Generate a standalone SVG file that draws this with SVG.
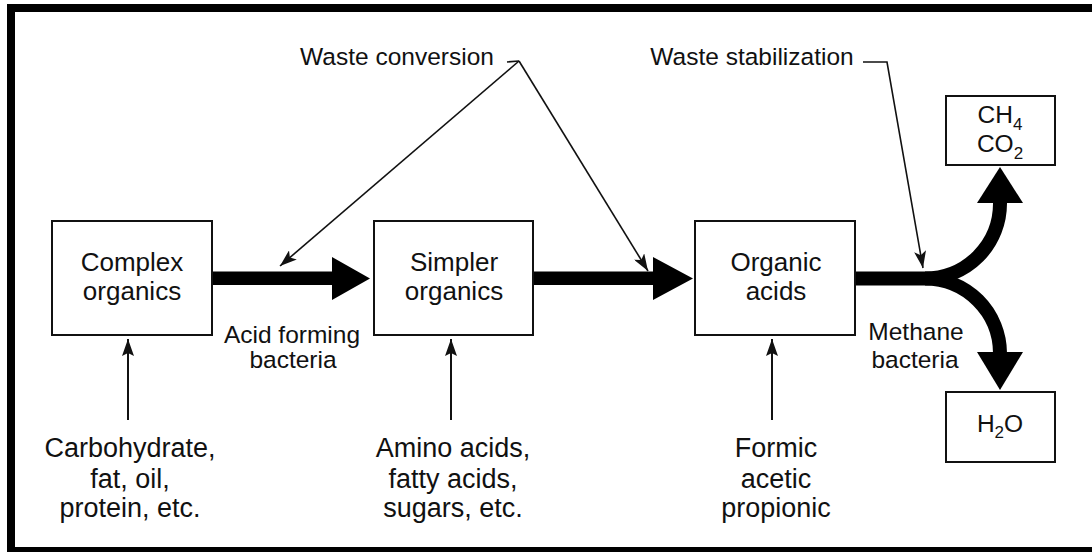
<svg xmlns="http://www.w3.org/2000/svg" width="1092" height="552" viewBox="0 0 1092 552">
<style>
.box{fill:#fff;stroke:#111;stroke-width:2}
.t{font-family:"Liberation Sans",Arial,sans-serif;fill:#111;text-anchor:middle}
.big{font-size:27px}
.bx{font-size:26px}
.lab{font-size:24.5px}
.thin{fill:none;stroke:#111;stroke-width:1.6}
.up{fill:none;stroke:#111;stroke-width:2}
.thick{fill:none;stroke:#000;stroke-width:14}
.head{fill:#000}
</style>
<defs>
<marker id="ah" markerUnits="userSpaceOnUse" markerWidth="18" markerHeight="12" refX="17" refY="6" orient="auto">
<path d="M0,0 L17,6 L0,12 L4,6 z" fill="#111"/>
</marker>
<marker id="ahu" markerUnits="userSpaceOnUse" markerWidth="18" markerHeight="12" refX="17" refY="6" orient="auto">
<path d="M0,0 L17,6 L0,12 L3,6 z" fill="#111"/>
</marker>
</defs>
<rect x="0" y="0" width="1092" height="552" fill="#fff"/>
<g id="frame">
<rect x="7" y="4" width="1085" height="8" fill="#000"/>
<rect x="7" y="4" width="8" height="548" fill="#000"/>
<rect x="7" y="547" width="1085" height="5" fill="#000"/>
</g>
<g id="connectors">
<polygon class="head" points="212,271.5 332,271.5 332,257 370,278.5 332,300 332,285 212,285"/>
<polygon class="head" points="533,271.5 653,271.5 653,257 693,278.5 653,300 653,285 533,285"/>
<path class="thick" d="M855,278.5 L925,278.5 A75,75 0 0 0 1000,203"/>
<path class="thick" d="M925,278.5 A75,75 0 0 1 1000,353"/>
<polygon class="head" points="977,203 1000,167 1023,203"/>
<polygon class="head" points="977,352 1023,352 1000,390"/>
<path class="thin" d="M507,62 L519,61"/>
<line class="thin" x1="519" y1="61" x2="280" y2="266" marker-end="url(#ah)"/>
<line class="thin" x1="519" y1="61" x2="648" y2="271" marker-end="url(#ah)"/>
<path class="thin" d="M863,62 L887,62 L923,268" marker-end="url(#ah)"/>
<line class="up" x1="128" y1="420" x2="128" y2="339" marker-end="url(#ahu)"/>
<line class="up" x1="451" y1="420" x2="451" y2="339" marker-end="url(#ahu)"/>
<line class="up" x1="772" y1="420" x2="772" y2="339" marker-end="url(#ahu)"/>
</g>
<g id="complex">
<rect class="box" x="52" y="221" width="160" height="114"/>
<text class="t bx" x="132" y="271">Complex</text>
<text class="t bx" x="132" y="300">organics</text>
</g>
<g id="simpler">
<rect class="box" x="374" y="221" width="159" height="114"/>
<text class="t bx" x="454" y="271">Simpler</text>
<text class="t bx" x="454" y="300">organics</text>
</g>
<g id="acids">
<rect class="box" x="695" y="221" width="160" height="114"/>
<text class="t bx" x="776" y="271">Organic</text>
<text class="t bx" x="776" y="300">acids</text>
</g>
<g id="gas">
<rect class="box" x="946" y="96" width="109" height="69"/>
<text class="t lab" x="1000" y="123">CH<tspan font-size="17" dy="7">4</tspan></text>
<text class="t lab" x="1000" y="152">CO<tspan font-size="17" dy="7">2</tspan></text>
</g>
<g id="water">
<rect class="box" x="946" y="392" width="109" height="70"/>
<text class="t lab" x="1000" y="432">H<tspan font-size="17" dy="6">2</tspan><tspan dy="-6">O</tspan></text>
</g>
<g id="labels">
<text class="t lab" x="397" y="65">Waste conversion</text>
<text class="t lab" x="752" y="65">Waste stabilization</text>
<text class="t lab" x="292" y="343">Acid forming</text>
<text class="t lab" x="293" y="368">bacteria</text>
<text class="t lab" x="916" y="340">Methane</text>
<text class="t lab" x="915" y="368">bacteria</text>
<text class="t big" x="130" y="457">Carbohydrate,</text>
<text class="t big" x="130" y="488">fat, oil,</text>
<text class="t big" x="130" y="517">protein, etc.</text>
<text class="t big" x="453" y="457">Amino acids,</text>
<text class="t big" x="453" y="488">fatty acids,</text>
<text class="t big" x="453" y="517">sugars, etc.</text>
<text class="t big" x="776" y="457">Formic</text>
<text class="t big" x="776" y="488">acetic</text>
<text class="t big" x="776" y="517">propionic</text>
</g>
</svg>
